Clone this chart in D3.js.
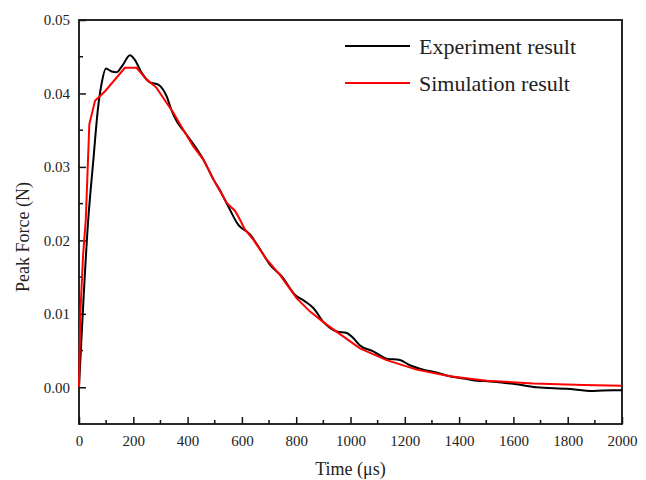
<!DOCTYPE html>
<html>
<head>
<meta charset="utf-8">
<script src="https://cdn.jsdelivr.net/npm/d3@7"></script>
<style>
  body { margin:0; background:#fff; }
  text { font-family:"Liberation Serif","Times New Roman",serif; fill:#222; }
</style>
</head>
<body>
<script>
// time in microseconds, force in N
var expTime  = [0,34,53,70,84,99,120,139,160,188,205,231,262,292,310,323,340,360,390,427,458,476,495,518,550,587,630,660,703,747,795,832,863,900,949,986,1010,1035,1084,1133,1182,1219,1268,1317,1366,1416,1465,1514,1563,1612,1686,1796,1894,1968,2000];
var expForce = [0,0.0228,0.031,0.038,0.0415,0.0434,0.0430,0.0429,0.0438,0.0452,0.0446,0.0428,0.0415,0.0412,0.0405,0.0396,0.0378,0.0362,0.0347,0.0328,0.0310,0.0297,0.0283,0.0269,0.0246,0.0221,0.0208,0.0192,0.0167,0.0151,0.0126,0.0117,0.0108,0.0089,0.0076,0.0074,0.0067,0.0057,0.0049,0.0039,0.0037,0.0030,0.0024,0.0020,0.0015,0.0012,0.0009,0.0008,0.0006,0.0004,0.0000,-0.0002,-0.0005,-0.0004,-0.0004];

var simTime  = [0,5,15,25,38,59,96,169,212,249,285,323,347,372,421,458,476,495,544,575,593,611,642,691,740,802,851,906,974,1035,1133,1244,1366,1502,1674,1857,2000];
var simForce = [0,0.010,0.018,0.0228,0.0358,0.039,0.0403,0.0435,0.0435,0.0419,0.0408,0.0387,0.0374,0.0358,0.0328,0.0310,0.0297,0.0283,0.0251,0.0240,0.0228,0.0215,0.0201,0.0174,0.0153,0.0121,0.0103,0.0087,0.0069,0.0053,0.0037,0.0024,0.0015,0.0009,0.0005,0.0003,0.0002];

var xTicks = [0,200,400,600,800,1000,1200,1400,1600,1800,2000];
var yTicks = [0,0.01,0.02,0.03,0.04,0.05];
var legendNames = ["Experiment result","Simulation result"];

var pLeft = 79, pRight = 622, pTop = 20, pBottom = 424;

var x = d3.scaleLinear().domain([0,2000]).range([pLeft,pRight]);
var y = d3.scaleLinear().domain([-0.005,0.05]).range([pBottom,pTop]);

var svg = d3.select("body").append("svg").attr('width',646).attr('height',480);

// minor ticks
var xMinor = d3.range(100,2000,200);
var yMinor = [0.005,0.015,0.025,0.035,0.045];

svg.selectAll('line.xminor')
  .data(xMinor)
  .enter().append('line')
    .attr('class','xminor')
    .attr('x1',function(d){return x(d);})
    .attr('x2',function(d){return x(d);})
    .attr('y1',pBottom)
    .attr('y2',pBottom-4)
    .attr('stroke','#111').attr('stroke-width',1.5);

svg.selectAll('line.yminor')
  .data(yMinor)
  .enter().append('line')
    .attr('class','yminor')
    .attr('x1',pLeft)
    .attr('x2',pLeft+4)
    .attr('y1',function(d){return y(d);})
    .attr('y2',function(d){return y(d);})
    .attr('stroke','#111').attr('stroke-width',1.5);

var xAxis = d3.axisBottom(x).tickValues(xTicks).tickSizeInner(-7).tickSizeOuter(0).tickPadding(11)
  .tickFormat(d3.format('d'));
var yAxis = d3.axisLeft(y).tickValues(yTicks).tickSizeInner(-7).tickSizeOuter(0).tickPadding(9)
  .tickFormat(d3.format('.2f'));

var gx = svg.append('g')
    .attr('transform','translate(0,'+pBottom+')')
    .call(xAxis);
var gy = svg.append('g')
    .attr('transform','translate('+pLeft+',0)')
    .call(yAxis);

[gx,gy].forEach(function(g){
  g.select('.domain').remove();
  g.selectAll('line').attr('stroke','#111').attr('stroke-width',1.5);
  g.selectAll('text').attr('font-size',15).attr('font-family','"Liberation Serif",serif').attr('fill','#222');
});

// frame
svg.append('rect')
  .attr('x',pLeft).attr('y',pTop)
  .attr('width',pRight-pLeft).attr('height',pBottom-pTop)
  .attr('fill','none').attr('stroke','#111').attr('stroke-width',1.8);

var expData = expTime.map(function(t,i){return [t,expForce[i]];});
var simData = simTime.map(function(t,i){return [t,simForce[i]];});

var lineSmooth = d3.line()
  .x(function(d){return x(d[0]);})
  .y(function(d){return y(d[1]);})
  .curve(d3.curveMonotoneX);
var lineStraight = d3.line()
  .x(function(d){return x(d[0]);})
  .y(function(d){return y(d[1]);});

svg.append('path')
  .attr('d',lineSmooth(expData))
  .attr('fill','none').attr('stroke','#000').attr('stroke-width',2);

svg.append('path')
  .attr('d',lineStraight(simData))
  .attr('fill','none').attr('stroke','#ff0000').attr('stroke-width',2);

// legend
var legendColors = ['#000','#ff0000'];
var legY = [46,83];
svg.selectAll('line.leg')
  .data(legendNames)
  .enter().append('line')
    .attr('class','leg')
    .attr('x1',345).attr('x2',410)
    .attr('y1',function(d,i){return legY[i];})
    .attr('y2',function(d,i){return legY[i];})
    .attr('stroke',function(d,i){return legendColors[i];})
    .attr('stroke-width',2);

svg.selectAll('text.leg')
  .data(legendNames)
  .enter().append('text')
    .attr('class','leg')
    .attr('x',419)
    .attr('y',function(d,i){return legY[i]+8;})
    .attr('font-size',22)
    .text(function(d){return d;});

// axis titles
svg.append('text')
  .attr('x',(pLeft+pRight)/2).attr('y',475)
  .attr('text-anchor','middle')
  .attr('font-size',18)
  .text('Time (\u03bcs)');

svg.append('text')
  .attr('transform','translate(29,237) rotate(-90)')
  .attr('text-anchor','middle')
  .attr('font-size',18)
  .text('Peak Force (N)');
</script>
</body>
</html>
